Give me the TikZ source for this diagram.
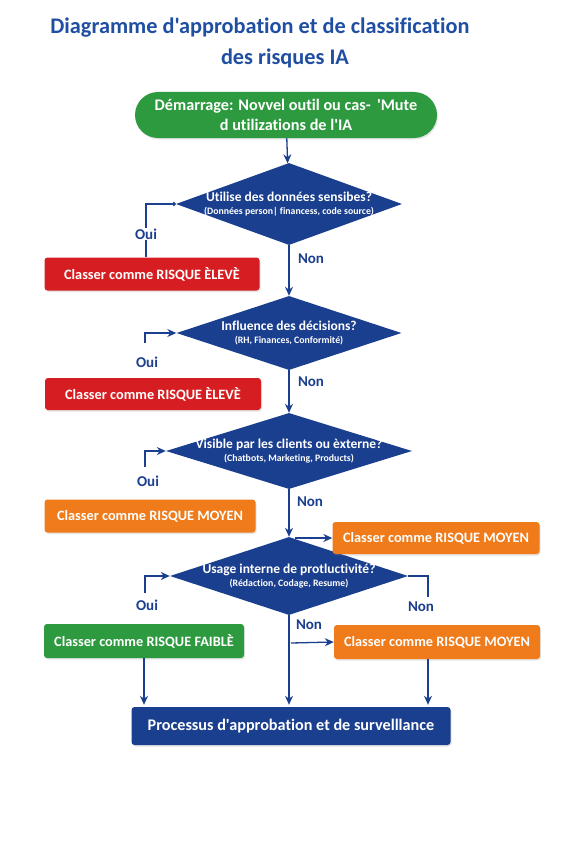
\documentclass[tikz,border=0pt]{standalone}
\usepackage{fontspec}
\setmainfont{Carlito}[Ligatures={NoCommon,TeXOff}]
\usetikzlibrary{arrows.meta, positioning, shapes.geometric, shadows}
\definecolor{mainBlue}{HTML}{1B3F8F}
\definecolor{titleBlue}{HTML}{1F4EA3}
\definecolor{riskGreen}{HTML}{2E9A3F}
\definecolor{riskRed}{HTML}{D61E22}
\definecolor{riskOrange}{HTML}{EF7B1A}

\begin{document}
\begin{tikzpicture}[x=1pt, y=-1pt, >={Stealth[length=9pt, width=8pt]},
    line/.style={draw=mainBlue, line width=1.3pt},
    box/.style={rounded corners=3pt, text=white, inner sep=0pt,
        font=\bfseries\fontsize{14.3}{16}\selectfont,
        drop shadow={opacity=0.2, shadow xshift=1pt, shadow yshift=-1.5pt}},
    diam/.style={diamond, fill=mainBlue, inner sep=0pt},
    qtext/.style={text=white, align=center, font=\bfseries\fontsize{13.5}{15}\selectfont},
    lbl/.style={text=mainBlue, inner sep=1pt, font=\bfseries\fontsize{15}{17}\selectfont}]
    \useasboundingbox[fill=white] (0,0) rectangle (576,864);

    % titre
    \node[text=titleBlue, font=\bfseries\fontsize{22.3}{25}\selectfont] (title1) at (260,28) {Diagramme d'approbation et de classification};
    \node[text=titleBlue, font=\bfseries\fontsize{22.3}{25}\selectfont] (title2) at (285,58) {des risques IA};

    % depart
    \node[box, fill=riskGreen, rounded corners=23pt, minimum width=302pt, minimum height=46pt,
        align=center, font=\bfseries\fontsize{16.2}{19.5}\selectfont] (start) at (286,115)
        {Démarrage: Novvel outil ou cas- \,'Mute\\d utilizations de l'IA};

    % questions
    \node[diam, minimum width=226pt, minimum height=82pt] (d1) at (289,204) {};
    \node[qtext] (q1) at (d1) {Utilise des données sensibes?\\[-2pt]{\fontsize{9.8}{11}\selectfont (Données person| financess, code source)}};
    \node[diam, minimum width=225pt, minimum height=74pt] (d2) at (289,333) {};
    \node[qtext] (q2) at (d2) {Influence des décisions?\\[-2pt]{\fontsize{9.8}{11}\selectfont (RH, Finances, Conformité)}};
    \node[diam, minimum width=246pt, minimum height=76pt] (d3) at (289,451) {};
    \node[qtext] (q3) at (d3) {Visible par les clients ou èxterne?\\[-2pt]{\fontsize{9.8}{11}\selectfont (Chatbots, Marketing, Products)}};
    \node[diam, minimum width=238pt, minimum height=78pt] (d4) at (289,576) {};
    \node[qtext] (q4) at (d4) {Usage interne de protluctivité?\\[-2pt]{\fontsize{9.8}{11}\selectfont (Rédaction, Codage, Resume)}};

    % classements
    \node[box, fill=riskRed, minimum width=215pt, minimum height=33pt] (r1) at (152,274) {Classer comme RISQUE ÈLEVÈ};
    \node[box, fill=riskRed, minimum width=216pt, minimum height=32pt] (r2) at (153,394) {Classer comme RISQUE ÈLEVÈ};
    \node[box, fill=riskOrange, minimum width=211pt, minimum height=33pt] (m1) at (150,516) {Classer comme RISQUE MOYEN};
    \node[box, fill=riskOrange, minimum width=207pt, minimum height=32pt] (m2) at (436,538) {Classer comme RISQUE MOYEN};
    \node[box, fill=riskGreen, minimum width=200pt, minimum height=34pt] (g1) at (144,641) {Classer comme RISQUE FAIBLÈ};
    \node[box, fill=riskOrange, minimum width=206pt, minimum height=34pt] (m3) at (437,642) {Classer comme RISQUE MOYEN};
    \node[box, fill=mainBlue, minimum width=319pt, minimum height=38pt,
        font=\bfseries\fontsize{16.2}{18}\selectfont] (fin) at (291,726) {Processus d'approbation et de survelllance};

    % liens
    \draw[line, ->] (start) -- (d1);
    \draw[line, -{Circle[length=4pt, fill=cyan!50!mainBlue!40]}] ([xshift=-6pt]r1.north) |- (d1.west);
    \node[lbl, fill=white] (oui1) at (146,234) {Oui};
    \draw[line, ->] (d1) -- (d2);
    \node[lbl] (non1) at (311,259) {Non};

    \coordinate (o2) at (145,343);
    \draw[line, ->] (o2) |- (d2.west);
    \node[lbl] (oui2) at (147,362) {Oui};
    \draw[line, ->] (d2) -- (d3);
    \node[lbl] (non2) at (311,382) {Non};

    \coordinate (o3) at (145,467);
    \draw[line, ->] (o3) |- (d3.west);
    \node[lbl] (oui3) at (148,481) {Oui};
    \draw[line, ->] (d3) -- (d4);
    \node[lbl] (non3) at (310,502) {Non};
    \coordinate (s3) at (295,538);
    \draw[line, ->] (s3) -- (m2.west);

    \coordinate (o4) at (145,593);
    \draw[line, ->] (o4) |- (d4.west);
    \node[lbl] (oui4) at (147,605) {Oui};
    \coordinate (n4) at (428,597);
    \draw[line] (d4.east) -| (n4);
    \node[lbl] (non4) at (421,607) {Non};
    \node[lbl] (non5) at (309,625) {Non};
    \coordinate (s4) at (291,643);
    \draw[line, ->] (s4) -- (m3.west);

    \draw[line, ->, shorten >=2pt] (g1.south) -- (g1.south |- fin.north);
    \draw[line, ->, shorten >=2pt] (d4.south) -- (d4.south |- fin.north);
    \draw[line, ->, shorten >=2pt] ([xshift=-9pt]m3.south) -- ([xshift=-9pt]m3.south |- fin.north);
\end{tikzpicture}
\end{document}
